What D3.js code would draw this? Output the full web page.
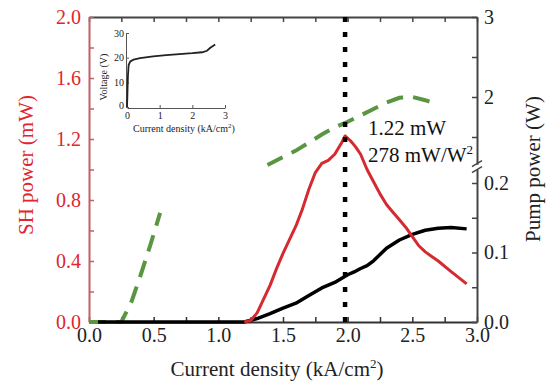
<!DOCTYPE html>
<html>
<head>
<meta charset="utf-8">
<script src="https://cdn.jsdelivr.net/npm/d3@7"></script>
<style>
  body { margin: 0; background: #fff; }
  svg text { font-family: "Liberation Serif", "Times New Roman", Times, "DejaVu Serif", serif !important; }
</style>
</head>
<body>
<svg id="chart" width="552" height="383"></svg>
<script>
// Tick values
const xTicks = [0, 0.5, 1.0, 1.5, 2.0, 2.5, 3.0];
const shTicks = [0, 0.4, 0.8, 1.2, 1.6, 2.0];
const pumpLowTicks = [0, 0.1, 0.2];
const pumpHighTicks = [2, 3];
const insetXTicks = [0, 1, 2, 3];
const insetYTicks = [0, 10, 20, 30];

// SH power (mW), red
const shCurrent = [1.2, 1.25, 1.3, 1.35, 1.4, 1.45, 1.5, 1.55, 1.6, 1.65, 1.7, 1.75, 1.8, 1.85, 1.9, 1.95, 1.98, 2.02, 2.06, 2.1, 2.15, 2.2, 2.25, 2.3, 2.35, 2.4, 2.45, 2.5, 2.55, 2.6, 2.65, 2.7, 2.8, 2.92];
const shPower = [0, 0.01, 0.06, 0.15, 0.24, 0.35, 0.45, 0.54, 0.63, 0.74, 0.87, 0.98, 1.04, 1.06, 1.10, 1.17, 1.22, 1.19, 1.15, 1.10, 1.00, 0.92, 0.84, 0.77, 0.72, 0.67, 0.62, 0.56, 0.50, 0.46, 0.43, 0.40, 0.33, 0.25];

// Pump power (W), black, lower part of right axis
const pumpCurrent = [0.07, 1.2, 1.3, 1.4, 1.5, 1.6, 1.7, 1.8, 1.9, 2.0, 2.05, 2.1, 2.15, 2.2, 2.25, 2.3, 2.4, 2.5, 2.6, 2.7, 2.8, 2.92];
const pumpPower = [0, 0, 0.005, 0.012, 0.020, 0.027, 0.038, 0.049, 0.057, 0.068, 0.072, 0.077, 0.081, 0.088, 0.097, 0.106, 0.118, 0.126, 0.132, 0.135, 0.136, 0.134];

// Green dashed curve, split across the axis break
const greenLowCurrent = [0, 0.25, 0.33, 0.40, 0.47, 0.55];
const greenLowPower = [0, 0, 0.03, 0.068, 0.108, 0.157];
const greenHighCurrent = [1.38, 1.5, 1.6, 1.7, 1.8, 1.9, 2.0, 2.1, 2.2, 2.3, 2.4, 2.5, 2.6, 2.69];
const greenHighPower = [1.15, 1.25, 1.33, 1.43, 1.53, 1.62, 1.69, 1.77, 1.85, 1.93, 1.99, 2.0, 1.96, 1.91];

// Inset: voltage vs current density
const ivCurrent = [0, 0.01, 0.02, 0.03, 0.05, 0.1, 0.2, 0.4, 0.8, 1.2, 1.6, 2.0, 2.3, 2.45, 2.55, 2.7];
const ivVoltage = [0, 4, 9, 13, 17, 18.5, 19.2, 19.8, 20.5, 21.0, 21.4, 21.8, 22.2, 22.8, 24.0, 25.3];

const peakCurrent = 1.98;
const peakLabels = ['1.22 mW', '278 mW/W'];

const svg = d3.select('#chart');
const plot = { left: 89, right: 477, top: 17, bottom: 322 };

const x = d3.scaleLinear().domain([0, 3]).range([plot.left, plot.right]);
const ySH = d3.scaleLinear().domain([0, 2]).range([plot.bottom, plot.top]);
const yLow = d3.scaleLinear().domain([0, 0.22]).range([plot.bottom, plot.bottom - 0.22 * 695]);
const yHigh = d3.scaleLinear().domain([1.16, 3]).range([97 + 0.84 * 80, plot.top]);

const fmt1 = d3.format('.1f');
const isMajor = (v, step) => Math.abs(v / step - Math.round(v / step)) < 1e-6;

// Top frame
svg.append('g')
  .attr('transform', `translate(0,${plot.top})`)
  .call(d3.axisTop(x).tickValues(d3.range(0, 3.01, 0.25)).tickSize(-5).tickSizeOuter(0).tickFormat(''))
  .call(g => g.selectAll('line').attr('stroke', '#444').attr('stroke-width', 1.5))
  .call(g => g.select('path').attr('stroke', '#444').attr('stroke-width', 2));

// Bottom axis
svg.append('g')
  .attr('transform', `translate(0,${plot.bottom})`)
  .call(d3.axisBottom(x).tickValues(d3.range(0, 3.01, 0.25)).tickSize(-5).tickSizeOuter(0).tickPadding(6)
    .tickFormat(d => xTicks.some(t => Math.abs(t - d) < 1e-6) ? fmt1(d) : ''))
  .call(g => g.selectAll('line').attr('stroke', '#333').attr('stroke-width', 1.5))
  .call(g => g.select('path').attr('stroke', '#333').attr('stroke-width', 2))
  .selectAll('text')
    .style('font-size', '20px')
    .attr('fill', '#222');

// Left axis (SH power)
svg.append('g')
  .attr('transform', `translate(${plot.left},0)`)
  .call(d3.axisLeft(ySH).tickValues(d3.range(0, 2.01, 0.2)).tickSize(-5).tickSizeOuter(0).tickPadding(8)
    .tickFormat(d => shTicks.some(t => Math.abs(t - d) < 1e-6) ? fmt1(d) : ''))
  .call(g => g.selectAll('line').attr('stroke', '#c0606a').attr('stroke-width', 1.5))
  .call(g => g.select('path').attr('stroke', '#c0606a').attr('stroke-width', 2))
  .selectAll('text')
    .style('font-size', '20px')
    .attr('fill', '#e0262e');

// Right axis, lower and upper segments
svg.append('g')
  .attr('transform', `translate(${plot.right},0)`)
  .call(d3.axisRight(yLow).tickValues([0, 0.05, 0.1, 0.15, 0.2]).tickSize(-5).tickSizeOuter(0).tickPadding(7)
    .tickFormat(d => pumpLowTicks.some(t => Math.abs(t - d) < 1e-6) ? fmt1(d) : ''))
  .call(g => g.selectAll('line').attr('stroke', '#444').attr('stroke-width', 1.5))
  .call(g => g.select('path').attr('stroke', '#444').attr('stroke-width', 2))
  .selectAll('text')
    .style('font-size', '20px')
    .attr('fill', '#222');

svg.append('g')
  .attr('transform', `translate(${plot.right},0)`)
  .call(d3.axisRight(yHigh).tickValues([1.5, 2, 2.5, 3]).tickSize(-5).tickSizeOuter(0).tickPadding(7)
    .tickFormat(d => pumpHighTicks.includes(d) ? d3.format('d')(d) : ''))
  .call(g => g.selectAll('line').attr('stroke', '#444').attr('stroke-width', 1.5))
  .call(g => g.select('path').attr('stroke', '#444').attr('stroke-width', 2))
  .selectAll('text')
    .style('font-size', '20px')
    .attr('fill', '#222');

// Axis break marks
const yb = (yLow(0.22) + yHigh(1.16)) / 2;
[-3, 3].forEach(dy => {
  svg.append('line')
    .attr('x1', plot.right - 5).attr('y1', yb + dy + 3)
    .attr('x2', plot.right + 5).attr('y2', yb + dy - 3)
    .attr('stroke', '#444').attr('stroke-width', 1.5);
});

// Curves
const lineOf = (xs, ys, yScale) => d3.line()
  .x((d, i) => x(xs[i]))
  .y((d, i) => yScale(ys[i]))(xs);

svg.append('path')
  .attr('d', lineOf(greenLowCurrent, greenLowPower, yLow))
  .attr('fill', 'none').attr('stroke', '#5a9641').attr('stroke-width', 4)
  .attr('stroke-dasharray', '17,10');

svg.append('path')
  .attr('d', lineOf(greenHighCurrent, greenHighPower, yHigh))
  .attr('fill', 'none').attr('stroke', '#5a9641').attr('stroke-width', 4)
  .attr('stroke-dasharray', '17,10');

svg.append('path')
  .attr('d', lineOf(pumpCurrent, pumpPower, yLow))
  .attr('fill', 'none').attr('stroke', '#000').attr('stroke-width', 3.5)
  .attr('stroke-linejoin', 'round');

svg.append('path')
  .attr('d', lineOf(shCurrent, shPower, ySH))
  .attr('fill', 'none').attr('stroke', '#d42a30').attr('stroke-width', 3)
  .attr('stroke-linejoin', 'round');

// Dotted marker at the peak
svg.append('line')
  .attr('x1', x(peakCurrent)).attr('x2', x(peakCurrent))
  .attr('y1', plot.top).attr('y2', plot.bottom)
  .attr('stroke', '#000').attr('stroke-width', 4.5)
  .attr('stroke-dasharray', '5,10');

// Peak annotation
svg.append('text')
  .attr('x', 368).attr('y', 135)
  .style('font-size', '21px').attr('fill', '#111')
  .text(peakLabels[0]);
const t2 = svg.append('text')
  .attr('x', 368).attr('y', 162)
  .style('font-size', '21px').attr('fill', '#111')
  .text(peakLabels[1]);
t2.append('tspan').attr('dy', -8).style('font-size', '13px').text('2');

// Axis titles
const xt = svg.append('text')
  .attr('x', 277).attr('y', 376)
  .attr('text-anchor', 'middle')
  .style('font-size', '21px').attr('fill', '#222')
  .text('Current density (kA/cm');
xt.append('tspan').attr('dy', -8).style('font-size', '13px').text('2');
xt.append('tspan').attr('dy', 8).text(')');

svg.append('text')
  .attr('transform', 'translate(33,165) rotate(-90)')
  .attr('text-anchor', 'middle')
  .style('font-size', '21px').attr('fill', '#e0262e')
  .text('SH power (mW)');

svg.append('text')
  .attr('transform', 'translate(540,169) rotate(-90)')
  .attr('text-anchor', 'middle')
  .style('font-size', '21px').attr('fill', '#222')
  .text('Pump power (W)');

// Inset
const ix = d3.scaleLinear().domain([0, 3]).range([127, 225]);
const iy = d3.scaleLinear().domain([0, 30]).range([107, 33]);

svg.append('g')
  .attr('transform', 'translate(0,108)')
  .call(d3.axisBottom(ix).tickValues(insetXTicks).tickSize(-3).tickSizeOuter(0).tickPadding(4).tickFormat(d3.format('d')))
  .call(g => g.selectAll('line, path').attr('stroke', '#555'))
  .selectAll('text').style('font-size', '10px').attr('fill', '#222');

svg.append('g')
  .attr('transform', 'translate(126,0)')
  .call(d3.axisLeft(iy).tickValues(insetYTicks).tickSize(-3).tickSizeOuter(0).tickPadding(2))
  .call(g => g.selectAll('line, path').attr('stroke', '#555'))
  .call(g => g.selectAll('.tick text').filter(d => d === 0).attr('dy', '0.1em'))
  .selectAll('text').style('font-size', '10px').attr('fill', '#222');

svg.append('path')
  .attr('d', d3.line().x((d, i) => ix(ivCurrent[i])).y((d, i) => iy(ivVoltage[i]))(ivCurrent))
  .attr('fill', 'none').attr('stroke', '#222').attr('stroke-width', 1.8);

svg.append('text')
  .attr('transform', 'translate(107,77) rotate(-90)')
  .attr('text-anchor', 'middle')
  .style('font-size', '10px').attr('fill', '#222')
  .text('Voltage (V)');

const it = svg.append('text')
  .attr('x', 133).attr('y', 132)
  .style('font-size', '10px').attr('fill', '#222')
  .text('Current density (kA/cm');
it.append('tspan').attr('dy', -4).style('font-size', '7px').text('2');
it.append('tspan').attr('dy', 4).text(')');
</script>
</body>
</html>
